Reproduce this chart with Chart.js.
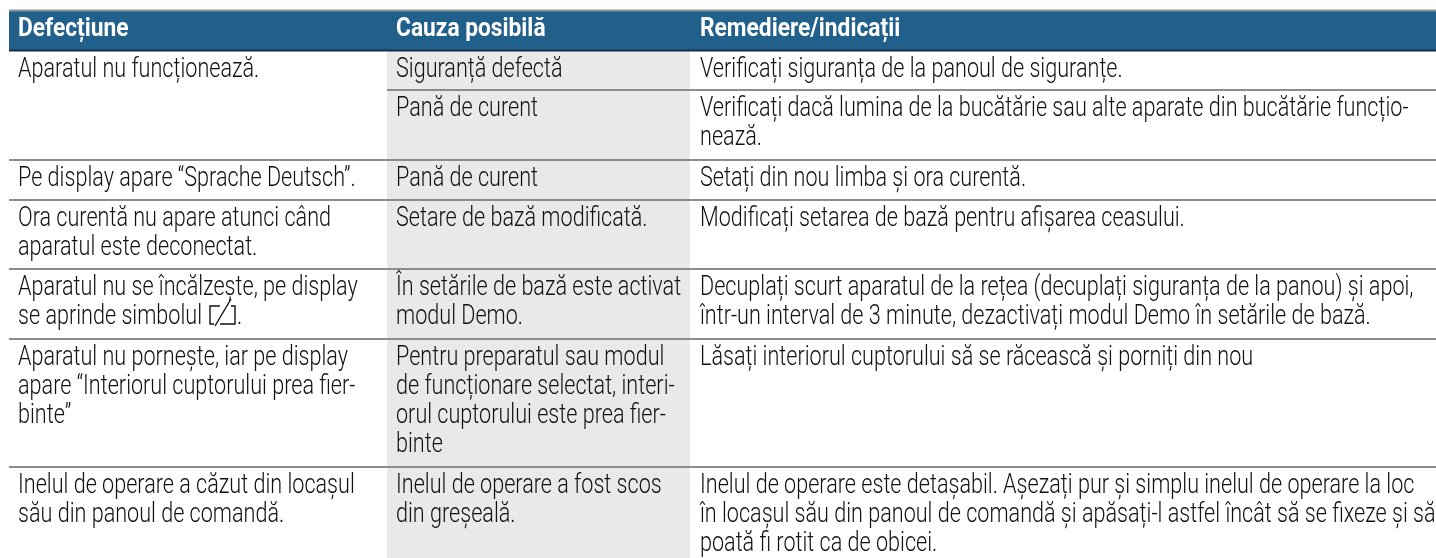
<!DOCTYPE html>
<html lang="ro"><head><meta charset="utf-8">
<script src="https://cdn.jsdelivr.net/npm/chart.js@4/dist/chart.umd.min.js"></script>
<style>html,body{margin:0;padding:0;background:#fff;overflow:hidden}canvas{display:block}</style>
</head><body><canvas id="c" width="1436" height="558"></canvas>
<script>
// Table text
const headers = ["Defecțiune", "Cauza posibilă", "Remediere/indicații"];
const defects = [
  ["Aparatul nu funcționează."],
  [],
  ["Pe display apare “Sprache Deutsch”."],
  ["Ora curentă nu apare atunci când", "aparatul este deconectat."],
  ["Aparatul nu se încălzește, pe display", "se aprinde simbolul"],
  ["Aparatul nu porneşte, iar pe display", "apare “Interiorul cuptorului prea fier-", "binte”"],
  ["Inelul de operare a căzut din locașul", "său din panoul de comandă."]
];
const causes = [
  ["Siguranță defectă"],
  ["Pană de curent"],
  ["Pană de curent"],
  ["Setare de bază modificată."],
  ["În setările de bază este activat", "modul Demo."],
  ["Pentru preparatul sau modul", "de funcționare selectat, interi-", "orul cuptorului este prea fier-", "binte"],
  ["Inelul de operare a fost scos", "din greşeală."]
];
const remedies = [
  ["Verificați siguranța de la panoul de siguranțe."],
  ["Verificați dacă lumina de la bucătărie sau alte aparate din bucătărie funcțio-", "nează."],
  ["Setați din nou limba și ora curentă."],
  ["Modificați setarea de bază pentru afișarea ceasului."],
  ["Decuplați scurt aparatul de la rețea (decuplați siguranța de la panou) și apoi,", "într-un interval de 3 minute, dezactivați modul Demo în setările de bază."],
  ["Lăsați interiorul cuptorului să se răcească şi porniți din nou"],
  ["Inelul de operare este detașabil. Așezați pur și simplu inelul de operare la loc", "în locașul său din panoul de comandă și apăsați-l astfel încât să se fixeze și să", "poată fi rotit ca de obicei."]
];

// Layout, in scale units
const W = 1436, H = 558;
const columnX = [18, 396, 700];
const rowTop = [51, 90, 160, 200, 269, 339, 467];
const fullRuleRows = [160, 200, 269, 339, 467];
const partRuleRows = [90];
const ruleLeft = 9, bandLeft = 387, bandRight = 690;
const headerTop = 11, headerBottom = 50;
const firstBaseline = 26, lineStep = 29, headerBaseline = 36;
const textSqueeze = 0.80, headerSqueeze = 0.875;

const seg = (x0, x1, y) => [{x: x0, y}, {x: x1, y}];
const flat = {type: 'scatter', showLine: true, pointRadius: 0, tension: 0};
const layers = [
  {...flat, data: seg(bandLeft, bandRight, 51), borderWidth: 0, borderColor: 'rgba(0,0,0,0)', backgroundColor: '#e9e9eb', fill: {value: H}},
  {...flat, data: seg(ruleLeft, W, headerTop), borderWidth: 0, borderColor: 'rgba(0,0,0,0)', backgroundColor: '#22608c', fill: {value: headerBottom}},
  {...flat, data: seg(ruleLeft, W, headerTop - 0.5), borderWidth: 2, borderColor: '#8f9396', fill: false},
  {...flat, data: seg(ruleLeft, W, headerBottom + 0.5), borderWidth: 2, borderColor: '#10304a', fill: false},
  ...fullRuleRows.map(y => ({...flat, data: seg(ruleLeft, W, y), borderWidth: 2, borderColor: '#8c8c8e', fill: false})),
  ...partRuleRows.map(y => ({...flat, data: seg(bandLeft, W, y), borderWidth: 2, borderColor: '#8c8c8e', fill: false}))
];
const datasets = layers.map((d, i) => ({...d, order: layers.length - i}));

const FONT = 'Roboto';
function squeezed(ctx, t, px, py, k) {
  ctx.save();
  ctx.translate(px, py);
  ctx.scale(k, 1);
  ctx.fillText(t, 0, 0);
  ctx.restore();
}
const tablePlugin = {
  id: 'tableText',
  afterDatasetsDraw(chart) {
    const {ctx, scales: {x, y}} = chart;
    ctx.save();
    ctx.textBaseline = 'alphabetic';
    ctx.textAlign = 'left';
    ctx.font = 'bold 26px ' + FONT;
    ctx.fillStyle = '#ffffff';
    headers.forEach((t, c) => squeezed(ctx, t, x.getPixelForValue(columnX[c]), y.getPixelForValue(headerBaseline), headerSqueeze));
    ctx.font = '300 27px ' + FONT;
    ctx.fillStyle = '#111111';
    [defects, causes, remedies].forEach((col, c) => col.forEach((lines, r) => lines.forEach((t, i) => {
      const px = x.getPixelForValue(columnX[c]);
      const py = y.getPixelForValue(rowTop[r] + firstBaseline + i * lineStep);
      squeezed(ctx, t, px, py, textSqueeze);
      if (t === "se aprinde simbolul") {
        const s = px + ctx.measureText(t).width * textSqueeze + 8;
        ctx.strokeStyle = '#111111'; ctx.lineWidth = 1.4;
        ctx.beginPath();
        ctx.moveTo(s + 4, py); ctx.lineTo(s, py); ctx.lineTo(s, py - 18); ctx.lineTo(s + 10, py - 18);
        ctx.moveTo(s + 5, py + 2); ctx.lineTo(s + 21, py - 25);
        ctx.moveTo(s + 10, py); ctx.lineTo(s + 25, py); ctx.lineTo(s + 25, py - 18); ctx.lineTo(s + 21, py - 18);
        ctx.stroke();
        squeezed(ctx, ".", s + 27, py, textSqueeze);
      }
    })));
    ctx.restore();
  }
};

new Chart(document.getElementById('c'), {
  type: 'scatter',
  data: {datasets},
  options: {
    responsive: false, animation: false,
    layout: {padding: 0},
    plugins: {legend: {display: false}, tooltip: {enabled: false}, title: {display: false}},
    scales: {
      x: {type: 'linear', min: 0, max: W, display: false},
      y: {type: 'linear', min: 0, max: H, reverse: true, display: false}
    }
  },
  plugins: [tablePlugin]
});
</script></body></html>
